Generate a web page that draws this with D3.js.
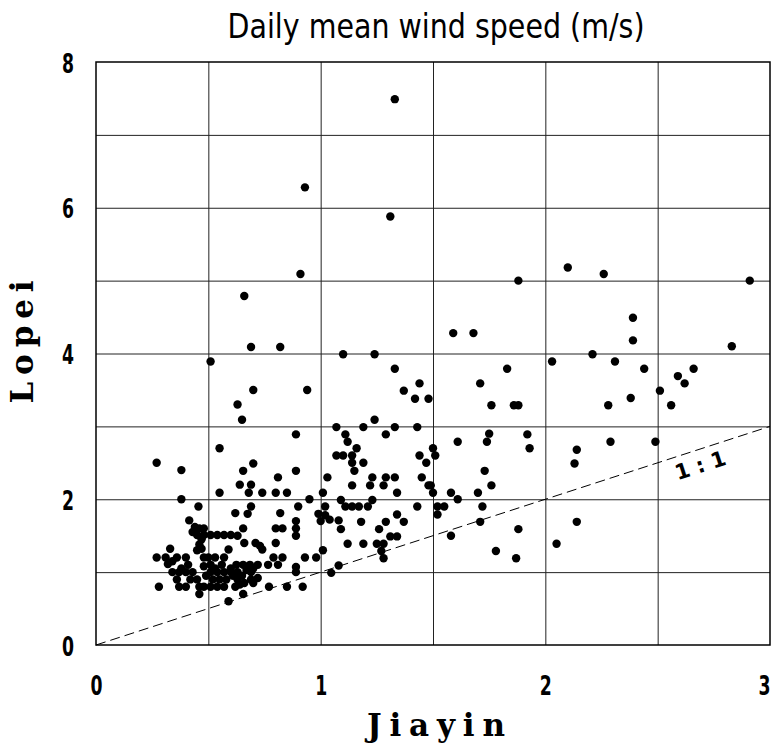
<!DOCTYPE html>
<html>
<head>
<meta charset="utf-8">
<script src="https://d3js.org/d3.v7.min.js"></script>
<style>
body { margin: 0; background: #fff; }
</style>
</head>
<body>
<svg id="chart" width="777" height="752"></svg>
<script>
// daily mean wind speed (m/s) at Jiayin (x) and Lopei (y)
var jiayin = [
  1.33, 0.93, 1.31, 0.91, 0.66, 0.69, 0.82, 0.51, 1.10, 1.24,
  1.33, 1.59, 1.68, 2.03, 1.83, 2.10, 2.26, 2.91, 2.39, 2.39,
  2.83, 2.21, 2.31, 2.44, 2.66, 1.88, 2.59, 2.62, 2.51, 2.38,
  2.28, 2.56, 0.94, 1.71, 1.76, 1.86, 1.88, 1.44, 1.37, 1.42,
  1.48, 1.24, 1.07, 1.19, 1.33, 1.43, 0.63, 0.65, 0.70,
  0.89, 1.11, 1.12, 1.29, 1.16, 1.50, 1.51, 1.07, 1.10, 1.14,
  1.44, 1.14, 1.19, 1.47, 1.15, 1.03, 1.23, 1.29, 1.33, 1.45,
  1.14, 1.22, 1.28, 1.48, 1.49, 1.34, 1.50, 1.01, 1.61, 1.75,
  1.74, 1.92, 1.93, 1.73, 1.76, 1.58, 1.70, 2.29, 2.49, 2.14,
  2.13, 0.27, 0.38, 0.55, 0.70, 0.655, 0.89, 0.81, 0.64, 0.69,
  0.55, 0.68, 0.74, 0.80, 0.85, 0.38, 0.95,
  1.09, 1.23, 1.61, 0.456, 0.69, 0.90, 1.02, 1.11, 1.14, 1.17,
  1.21, 1.43, 1.52, 1.55, 1.72, 0.675, 0.62, 0.82, 0.99, 1.02,
  1.34, 1.52, 0.415, 0.44, 0.89, 1.00, 1.04, 1.08, 1.18, 1.29,
  1.37, 1.71, 2.14, 0.655, 0.80, 0.83, 0.89, 1.09, 1.26, 1.88,
  0.46, 0.48, 0.45, 0.48, 0.51, 0.54, 0.57, 0.60, 0.63, 0.89,
  1.31, 1.34, 1.58,
  0.66, 0.71, 0.73, 0.74, 0.80, 1.12, 1.19, 1.25, 1.28, 2.05,
  0.59, 0.33, 0.47, 0.46, 0.47, 1.01, 1.27, 1.78, 0.27, 0.31,
  0.36, 0.40, 0.48, 0.50, 0.53, 0.57, 0.79, 0.83, 0.93, 0.98,
  1.28, 1.87, 0.32, 0.51, 0.56, 0.625, 0.655, 0.685, 0.72, 0.766,
  0.81, 0.89, 1.08, 0.34, 0.37, 0.40, 0.43, 0.51, 0.54, 0.57,
  0.60, 0.63, 0.69, 0.89, 1.047, 0.34, 0.38, 0.36, 0.42, 0.45,
  0.52, 0.55, 0.58, 0.63, 0.69, 0.72, 0.28, 0.37, 0.40, 0.46,
  0.48, 0.51, 0.54, 0.57, 0.62, 0.66, 0.77, 0.85, 0.92, 0.46,
  0.655, 0.59, 0.60, 0.65, 0.67, 0.61, 0.53, 0.70, 0.64, 0.70,
  0.43, 0.45, 0.41, 0.48,
  0.49
];
var lopei = [
  7.49, 6.28, 5.88, 5.09, 4.79, 4.09, 4.09, 3.89, 3.99, 3.99,
  3.79, 4.28, 4.28, 3.89, 3.79, 5.18, 5.09, 5.00, 4.49, 4.18,
  4.10, 3.99, 3.89, 3.79, 3.79, 5.00, 3.69, 3.59, 3.49, 3.39,
  3.29, 3.29, 3.50, 3.59, 3.29, 3.29, 3.29, 3.59, 3.49, 3.38,
  3.38, 3.09, 2.99, 2.99, 2.99, 2.99, 3.30, 3.09, 3.50,
  2.89, 2.89, 2.79, 2.89, 2.70, 2.70, 2.60, 2.60, 2.60, 2.60,
  2.60, 2.50, 2.50, 2.50, 2.39, 2.30, 2.30, 2.30, 2.30, 2.30,
  2.19, 2.19, 2.19, 2.19, 2.19, 2.09, 2.09, 2.09, 2.79, 2.90,
  2.79, 2.89, 2.70, 2.39, 2.19, 2.09, 2.09, 2.79, 2.79, 2.68,
  2.49, 2.50, 2.40, 2.70, 2.49, 2.39, 2.39, 2.30, 2.20, 2.20,
  2.09, 2.09, 2.09, 2.09, 2.09, 2.00, 2.00,
  1.99, 1.99, 2.00, 1.90, 1.90, 1.90, 1.90, 1.90, 1.90, 1.90,
  1.90, 1.90, 1.90, 1.90, 1.90, 1.80, 1.81, 1.81, 1.80, 1.78,
  1.79, 1.79, 1.71, 1.62, 1.70, 1.70, 1.72, 1.71, 1.69, 1.69,
  1.69, 1.69, 1.69, 1.60, 1.60, 1.60, 1.60, 1.59, 1.59, 1.59,
  1.60, 1.60, 1.51, 1.51, 1.51, 1.51, 1.51, 1.51, 1.50, 1.50,
  1.49, 1.49, 1.50,
  1.40, 1.40, 1.36, 1.31, 1.40, 1.39, 1.39, 1.39, 1.39, 1.39,
  1.31, 1.32, 1.45, 1.38, 1.32, 1.30, 1.29, 1.29, 1.20, 1.20,
  1.20, 1.20, 1.20, 1.20, 1.20, 1.20, 1.20, 1.20, 1.20, 1.20,
  1.19, 1.19, 1.11, 1.10, 1.10, 1.10, 1.10, 1.10, 1.10, 1.10,
  1.10, 1.07, 1.09, 1.00, 1.00, 1.00, 1.00, 1.00, 1.00, 1.00,
  1.00, 1.00, 1.00, 1.00, 0.99, 1.15, 1.05, 0.90, 0.90, 0.90,
  0.90, 0.90, 0.90, 0.90, 0.90, 0.92, 0.80, 0.80, 0.80, 0.80,
  0.80, 0.80, 0.80, 0.80, 0.80, 0.85, 0.80, 0.80, 0.80, 0.70,
  0.70, 0.60, 1.05, 0.95, 1.03, 0.95, 1.05, 1.05, 0.83, 0.85,
  1.55, 1.30, 1.10, 1.08,
  0.95
];
var xTicks = [0, 1, 2, 3];
var yTicks = [0, 2, 4, 6, 8];
var xGrid = [0.5, 1, 1.5, 2, 2.5];
var yGrid = [1, 2, 3, 4, 5, 6, 7];
var oneToOne = [0, 3];

var svg = d3.select('#chart');
var pLeft = 96, pRight = 770, pTop = 62, pBottom = 645;

var xs = d3.scaleLinear().domain([0, 3]).range([pLeft, pRight]);
var ys = d3.scaleLinear().domain([0, 8]).range([pBottom, pTop]);

// grid
svg.append('g')
    .attr('transform', 'translate(0,' + pBottom + ')')
    .call(d3.axisBottom(xs).tickValues(xGrid).tickSize(-(pBottom - pTop)).tickFormat(''))
    .call(function(g) { g.select('.domain').remove(); })
    .selectAll('line').attr('stroke', '#222').attr('stroke-width', 1);

svg.append('g')
    .attr('transform', 'translate(' + pLeft + ',0)')
    .call(d3.axisLeft(ys).tickValues(yGrid).tickSize(-(pRight - pLeft)).tickFormat(''))
    .call(function(g) { g.select('.domain').remove(); })
    .selectAll('line').attr('stroke', '#222').attr('stroke-width', 1);

// frame
svg.append('rect')
    .attr('x', pLeft).attr('y', pTop)
    .attr('width', pRight - pLeft).attr('height', pBottom - pTop)
    .attr('fill', 'none').attr('stroke', '#000').attr('stroke-width', 1.5);

// tick labels
var xAxis = svg.append('g')
    .attr('transform', 'translate(0,' + pBottom + ')')
    .call(d3.axisBottom(xs).tickValues(xTicks).tickSize(0).tickFormat(d3.format('d')));
xAxis.select('.domain').remove();
xAxis.selectAll('text')
    .attr('y', 50).attr('dy', 0);
// keep the last label inside the picture
xAxis.selectAll('text').filter(function(d) { return d === 3; }).attr('x', -6);

var yAxis = svg.append('g')
    .attr('transform', 'translate(' + pLeft + ',0)')
    .call(d3.axisLeft(ys).tickValues(yTicks).tickSize(0).tickFormat(d3.format('d')));
yAxis.select('.domain').remove();
yAxis.selectAll('text')
    .attr('x', -28).attr('dy', '0.37em')
    .style('text-anchor', 'middle');

svg.selectAll('.tick text')
    .style('font-family', 'DejaVu Sans')
    .style('font-weight', 'bold')
    .style('font-size', '27px')
    .attr('textLength', 12).attr('lengthAdjust', 'spacingAndGlyphs')
    .attr('fill', '#000');

// 1:1 line
svg.append('line')
    .attr('x1', xs(oneToOne[0])).attr('y1', ys(oneToOne[0]))
    .attr('x2', xs(oneToOne[1])).attr('y2', ys(oneToOne[1]))
    .attr('stroke', '#000').attr('stroke-width', 1)
    .attr('stroke-dasharray', '10,5');

var ang = Math.atan2(ys(0) - ys(3), xs(3) - xs(0)) * 180 / Math.PI;
svg.append('text')
    .attr('transform', 'translate(' + xs(2.7) + ',' + (ys(2.7) + 24) + ') rotate(' + (-ang) + ')')
    .style('text-anchor', 'middle')
    .style('font-family', 'DejaVu Sans')
    .style('font-weight', 'bold')
    .style('font-size', '21px')
    .text('1 : 1');

// points
svg.append('g').selectAll('circle')
    .data(jiayin.map(function(d, i) { return [d, lopei[i]]; }))
    .enter().append('circle')
    .attr('cx', function(d) { return xs(d[0]); })
    .attr('cy', function(d) { return ys(d[1]); })
    .attr('r', 4.2)
    .attr('fill', '#000');

// titles
svg.append('text')
    .attr('x', 436).attr('y', 38)
    .style('text-anchor', 'middle')
    .style('font-family', 'DejaVu Sans')
    .style('font-size', '33px')
    .attr('textLength', 417).attr('lengthAdjust', 'spacingAndGlyphs')
    .text('Daily mean wind speed (m/s)');

svg.append('text')
    .attr('x', 436).attr('y', 736)
    .style('text-anchor', 'middle')
    .style('font-family', 'DejaVu Serif')
    .style('font-weight', 'bold')
    .style('font-size', '31px')
    .attr('textLength', 138).attr('lengthAdjust', 'spacing')
    .text('Jiayin');

svg.append('text')
    .attr('transform', 'translate(33,342) rotate(-90)')
    .style('text-anchor', 'middle')
    .style('font-family', 'DejaVu Serif')
    .style('font-weight', 'bold')
    .style('font-size', '31px')
    .attr('textLength', 123).attr('lengthAdjust', 'spacing')
    .text('Lopei');
</script>
</body>
</html>
